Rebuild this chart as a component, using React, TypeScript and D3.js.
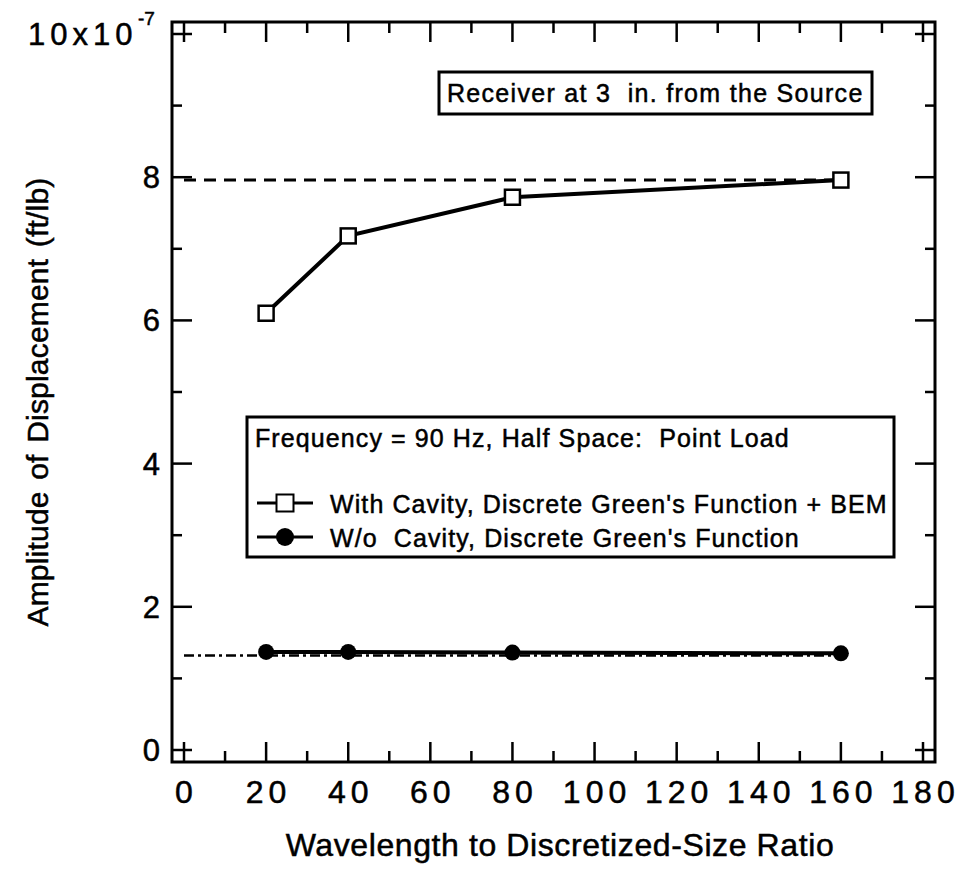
import React from "react";
import * as d3 from "d3";

const ratios = [20, 40, 80, 160];
const withCavity = [6.1, 7.18, 7.72, 7.96];
const withoutCavity = [1.37, 1.37, 1.36, 1.35];
const refWith = 7.96;
const refWithout = 1.32;
const xTickLabels = [0, 20, 40, 60, 80, 100, 120, 140, 160, 180];
const yTickLabels = [0, 2, 4, 6, 8];

const FONT = "'Liberation Sans', Arial, Helvetica, sans-serif";

export default function App() {
  const W = 959, H = 876;
  const x = d3.scaleLinear().domain([0, 180]).range([184, 923]);
  const y = d3.scaleLinear().domain([0, 10]).range([750, 34]);
  const frame = { l: 172, r: 935, t: 22, b: 762 };
  const line = d3.line<[number, number]>().x(d => x(d[0])).y(d => y(d[1]));
  const s1 = ratios.map((r, i) => [r, withCavity[i]] as [number, number]);
  const s2 = ratios.map((r, i) => [r, withoutCavity[i]] as [number, number]);
  const xt = d3.range(0, 181, 10);
  const yt = d3.range(0, 11, 1);
  const sq = 15;
  const txt = { stroke: "#000", strokeWidth: 0.5 };

  return (
    <svg width={W} height={H} style={{ position: "absolute", left: 0, top: 0, background: "#fff" }} fontFamily={FONT}>
      <rect x={0} y={0} width={W} height={H} fill="#fff" />
      {/* reference lines */}
      <line x1={x(0)} x2={x(160)} y1={y(refWith)} y2={y(refWith)} stroke="#000" strokeWidth={3} strokeDasharray="12 8" />
      <line x1={x(0)} x2={x(160)} y1={y(refWithout)} y2={y(refWithout)} stroke="#000" strokeWidth={2.5} strokeDasharray="10 4 3 4" />
      {/* series */}
      <path d={line(s1) || ""} fill="none" stroke="#000" strokeWidth={4} />
      <path d={line(s2) || ""} fill="none" stroke="#000" strokeWidth={4} />
      {s1.map((d, i) => (
        <rect key={"s" + i} x={x(d[0]) - sq / 2} y={y(d[1]) - sq / 2} width={sq} height={sq} fill="#fff" stroke="#000" strokeWidth={2.5} />
      ))}
      {s2.map((d, i) => (
        <circle key={"c" + i} cx={x(d[0])} cy={y(d[1])} r={8} fill="#000" />
      ))}
      {/* frame */}
      <rect x={frame.l} y={frame.t} width={frame.r - frame.l} height={frame.b - frame.t} fill="none" stroke="#000" strokeWidth={3} />
      {xt.map(v => {
        const len = v % 20 === 0 ? 20 : 11;
        return (
          <g key={"xt" + v}>
            <line x1={x(v)} x2={x(v)} y1={frame.b} y2={frame.b - len} stroke="#000" strokeWidth={2.5} />
            <line x1={x(v)} x2={x(v)} y1={frame.t} y2={frame.t + len} stroke="#000" strokeWidth={2.5} />
          </g>
        );
      })}
      {yt.map(v => {
        const len = v % 2 === 0 ? 20 : 10;
        return (
          <g key={"yt" + v}>
            <line x1={frame.l} x2={frame.l + len} y1={y(v)} y2={y(v)} stroke="#000" strokeWidth={2.5} />
            <line x1={frame.r} x2={frame.r - len} y1={y(v)} y2={y(v)} stroke="#000" strokeWidth={2.5} />
          </g>
        );
      })}
      {/* x tick labels */}
      {xTickLabels.map(v => (
        <text key={"xl" + v} x={x(v) + 2.5} y={803} textAnchor="middle" fontSize={32} letterSpacing={5} {...txt}>{v}</text>
      ))}
      {/* y tick labels */}
      {yTickLabels.map(v => (
        <text key={"yl" + v} x={160} y={y(v) + 11} textAnchor="end" fontSize={31} {...txt}>{v}</text>
      ))}
      <text x={28} y={45} fontSize={31} letterSpacing={5} {...txt}>10x10</text>
      <text x={138} y={25} fontSize={19} {...txt}>-7</text>
      {/* axis titles */}
      <text x={560} y={856} textAnchor="middle" fontSize={32} letterSpacing={0.6} {...txt}>Wavelength to Discretized-Size Ratio</text>
      <text transform={`translate(48,402) rotate(-90)`} textAnchor="middle" fontSize={30} letterSpacing={0.2} style={{ wordSpacing: "3px" }} {...txt}>Amplitude of Displacement (ft/lb)</text>
      {/* annotation box */}
      <rect x={439} y={72} width={433} height={42} fill="#fff" stroke="#000" strokeWidth={3} />
      <text x={447} y={102} fontSize={25} letterSpacing={1.3} style={{ whiteSpace: "pre" }} {...txt}>Receiver at 3  in. from the Source</text>
      {/* legend */}
      <rect x={247} y={417} width={647} height={140} fill="#fff" stroke="#000" strokeWidth={3} />
      <text x={255} y={447} fontSize={25} letterSpacing={1.1} style={{ whiteSpace: "pre" }} {...txt}>Frequency = 90 Hz, Half Space:  Point Load</text>
      <line x1={257} x2={313} y1={503} y2={503} stroke="#000" strokeWidth={3} />
      <rect x={285 - 8.5} y={503 - 8.5} width={17} height={17} fill="#fff" stroke="#000" strokeWidth={2} />
      <text x={330} y={513} fontSize={25} letterSpacing={1.1} {...txt}>With Cavity, Discrete Green's Function + BEM</text>
      <line x1={257} x2={313} y1={537} y2={537} stroke="#000" strokeWidth={3} />
      <circle cx={285} cy={537} r={9} fill="#000" />
      <text x={330} y={547} fontSize={25} letterSpacing={1.1} style={{ whiteSpace: "pre" }} {...txt}>W/o  Cavity, Discrete Green's Function</text>
    </svg>
  );
}
